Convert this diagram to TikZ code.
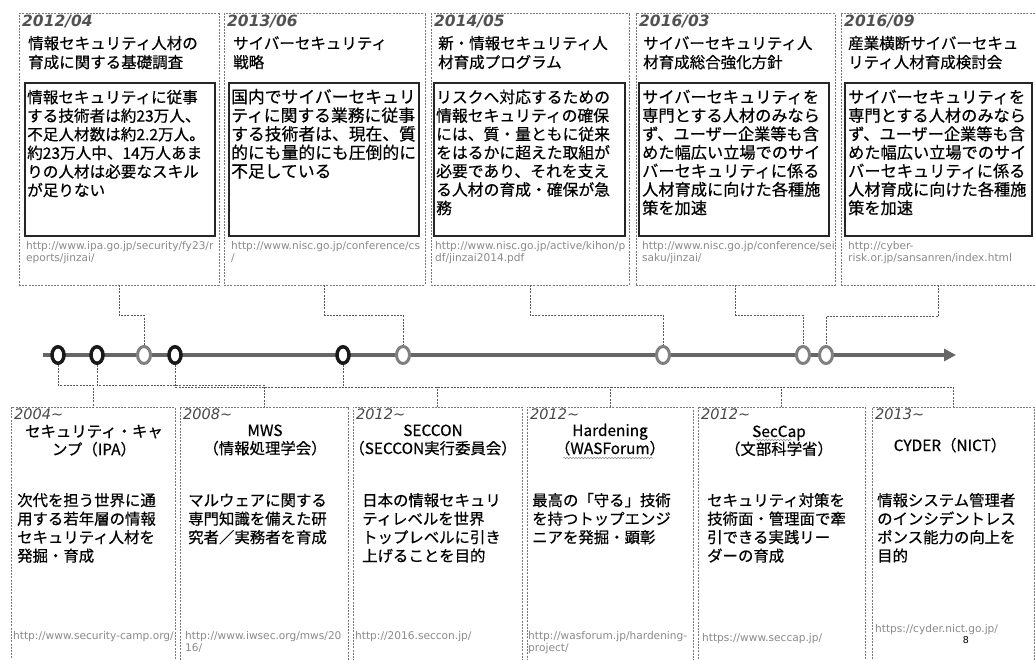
\documentclass[tikz,border=0pt]{standalone}
\usepackage{fontspec}
\setmainfont{Noto Sans CJK JP}[FakeBold=0.5]
\newfontfamily\latinfont{DejaVu Sans}
\usetikzlibrary{shapes.geometric,arrows.meta,decorations.pathmorphing}
\definecolor{boxgray}{HTML}{7A7A7A}
\definecolor{conngray}{HTML}{5A5A5A}
\definecolor{circgray}{HTML}{808080}
\definecolor{linegray}{HTML}{666666}
\definecolor{urlgray}{HTML}{8A8A8A}
\begin{document}
\begin{tikzpicture}[x=1pt,y=-1pt,
  obox/.style={draw=boxgray, dash pattern=on 2pt off 1.2pt, line width=1pt, inner sep=0pt, outer sep=0pt},
  ibox/.style={draw=black!85, line width=2pt, inner sep=0pt, outer sep=0pt},
  conn/.style={draw=conngray, dash pattern=on 2pt off 1.2pt, line width=1pt},
  gcirc/.style={ellipse, draw=circgray, fill=white, line width=3pt, minimum width=13pt, minimum height=17pt, inner sep=0pt},
  kcirc/.style={ellipse, draw=black!90, fill=white, line width=3.5pt, minimum width=12pt, minimum height=16.5pt, inner sep=0pt},
  datetop/.style={anchor=base west, inner sep=0pt, font=\latinfont\bfseries\itshape\fontsize{15.5}{15}\selectfont, text=black!68},
  datebot/.style={anchor=base west, inner sep=0pt, font=\latinfont\itshape\fontsize{14.5}{14}\selectfont, text=black!72},
  ttitle/.style={anchor=base west, inner sep=0pt, text width=200pt, align=left, font=\fontsize{15.5}{19}\selectfont},
  tbody/.style={anchor=base west, inner sep=0pt, text width=210pt, align=left},
  url/.style={anchor=base west, inner sep=0pt, text width=230pt, align=left, font=\latinfont\fontsize{10.6}{12}\selectfont, text=urlgray},
  btitle/.style={anchor=base, inner sep=0pt, text width=180pt, align=center, font=\fontsize{15.4}{18}\selectfont},
  bbody/.style={anchor=base west, inner sep=0pt, text width=180pt, align=left, font=\fontsize{15.4}{18.5}\selectfont},
  squig/.style={draw=black!45, line width=0.5pt, decorate, decoration={snake, amplitude=0.8pt, segment length=3pt}},
  tline/.style={draw=linegray, line width=4pt, -{Triangle[length=12pt,width=12pt]}}
]
\fill[white] (0,0) rectangle (1035,660);
\useasboundingbox (0,0) rectangle (1035,660);

% ---------- top boxes ----------
\node[obox, minimum width=200pt, minimum height=271pt] (t1) at (119,149.5) {};
\node[obox, minimum width=201pt, minimum height=271pt] (t2) at (324.5,149.5) {};
\node[obox, minimum width=198pt, minimum height=271pt] (t3) at (530,149.5) {};
\node[obox, minimum width=199pt, minimum height=271pt] (t4) at (735.5,149.5) {};
\node[obox, minimum width=195pt, minimum height=271pt] (t5) at (938.5,149.5) {};

\node[ibox, minimum width=190pt, minimum height=153pt] (i1) at (120,159.5) {};
\node[ibox, minimum width=190pt, minimum height=153pt] (i2) at (324,159.5) {};
\node[ibox, minimum width=191pt, minimum height=153pt] (i3) at (529.5,159.5) {};
\node[ibox, minimum width=190pt, minimum height=153pt] (i4) at (734,159.5) {};
\node[ibox, minimum width=187pt, minimum height=153pt] (i5) at (938.5,159.5) {};

\node[datetop] (d1) at (22,27) {2012/04};
\node[datetop] (d2) at (227,27) {2013/06};
\node[datetop] (d3) at (434,27) {2014/05};
\node[datetop] (d4) at (639,27) {2016/03};
\node[datetop] (d5) at (844,27) {2016/09};

\node[ttitle] (h1) at (28,49) {情報セキュリティ人材の\\育成に関する基礎調査};
\node[ttitle] (h2) at (233,49) {サイバーセキュリティ\\戦略};
\node[ttitle] (h3) at (438,49) {新・情報セキュリティ人\\材育成プログラム};
\node[ttitle] (h4) at (643,49) {サイバーセキュリティ人\\材育成総合強化方針};
\node[ttitle] (h5) at (848,49) {産業横断サイバーセキュ\\リティ人材育成検討会};

\node[tbody, font=\fontsize{15.6}{18.6}\selectfont] (x1) at (27,103) {情報セキュリティに従事\\する技術者は約23万人、\\不足人材数は約2.2万人。\\約23万人中、14万人あま\\りの人材は必要なスキル\\が足りない};
\node[tbody, font=\fontsize{16.8}{18.6}\selectfont] (x2) at (231,103) {国内でサイバーセキュリ\\ティに関する業務に従事\\する技術者は、現在、質\\的にも量的にも圧倒的に\\不足している};
\node[tbody, font=\fontsize{15.8}{18.5}\selectfont] (x3) at (436,103) {リスクへ対応するための\\情報セキュリティの確保\\には、質・量ともに従来\\をはるかに超えた取組が\\必要であり、それを支え\\る人材の育成・確保が急\\務};
\node[tbody, font=\fontsize{16.2}{18.5}\selectfont] (x4) at (642,103) {サイバーセキュリティを\\専門とする人材のみなら\\ず、ユーザー企業等も含\\めた幅広い立場でのサイ\\バーセキュリティに係る\\人材育成に向けた各種施\\策を加速};
\node[tbody, font=\fontsize{16.2}{18.5}\selectfont] (x5) at (848,103) {サイバーセキュリティを\\専門とする人材のみなら\\ず、ユーザー企業等も含\\めた幅広い立場でのサイ\\バーセキュリティに係る\\人材育成に向けた各種施\\策を加速};

\node[url] (u1) at (26,250) {http://www.ipa.go.jp/security/fy23/r\\eports/jinzai/};
\node[url] (u2) at (231,250) {http://www.nisc.go.jp/conference/cs\\/};
\node[url] (u3) at (435,250) {http://www.nisc.go.jp/active/kihon/p\\df/jinzai2014.pdf};
\node[url] (u4) at (642,250) {http://www.nisc.go.jp/conference/sei\\saku/jinzai/};
\node[url] (u5) at (848,250) {http://cyber-\\risk.or.jp/sansanren/index.html};

% ---------- bottom boxes ----------
\node[obox, minimum width=164pt, minimum height=261pt] (b1) at (93,537.5) {};
\node[obox, minimum width=168pt, minimum height=261pt] (b2) at (264,537.5) {};
\node[obox, minimum width=169pt, minimum height=261pt] (b3) at (437.5,537.5) {};
\node[obox, minimum width=166pt, minimum height=261pt] (b4) at (610,537.5) {};
\node[obox, minimum width=167pt, minimum height=261pt] (b5) at (781.5,537.5) {};
\node[obox, minimum width=162pt, minimum height=261pt] (b6) at (953,537.5) {};

\node[datebot] (e1) at (14,419) {2004\textasciitilde};
\node[datebot] (e2) at (183,419) {2008\textasciitilde};
\node[datebot] (e3) at (356,419) {2012\textasciitilde};
\node[datebot] (e4) at (530,419) {2012\textasciitilde};
\node[datebot] (e5) at (701,419) {2012\textasciitilde};
\node[datebot] (e6) at (875,419) {2013\textasciitilde};

\node[btitle] (g1) at (94,437) {セキュリティ・キャ\\ンプ（IPA）};
\node[btitle] (g2) at (265,436) {MWS\\（情報処理学会）};
\node[btitle] (g3) at (433,436) {SECCON\\（SECCON実行委員会）};
\node[btitle] (g4) at (610,436) {Hardening\\（WASForum）};
\node[btitle, font=\fontsize{15.4}{16}\selectfont] (g5) at (779,437) {SecCap\\（文部科学省）};
\node[btitle] (g6) at (950,451) {CYDER（NICT）};

\draw[squig] (563,458) -- (653,458);
\draw[squig] (756,440) -- (792,440);

\node[bbody] (y1) at (17,506) {次代を担う世界に通\\用する若年層の情報\\セキュリティ人材を\\発掘・育成};
\node[bbody] (y2) at (188,506) {マルウェアに関する\\専門知識を備えた研\\究者／実務者を育成};
\node[bbody] (y3) at (362,506) {日本の情報セキュリ\\ティレベルを世界\\トップレベルに引き\\上げることを目的};
\node[bbody] (y4) at (532,506) {最高の「守る」技術\\を持つトップエンジ\\ニアを発掘・顕彰};
\node[bbody] (y5) at (707,506) {セキュリティ対策を\\技術面・管理面で牽\\引できる実践リー\\ダーの育成};
\node[bbody] (y6) at (877,506) {情報システム管理者\\のインシデントレス\\ポンス能力の向上を\\目的};

\node[url] (v1) at (13,639) {http://www.security-camp.org/};
\node[url] (v2) at (185,639) {http://www.iwsec.org/mws/20\\16/};
\node[url] (v3) at (355,639) {http://2016.seccon.jp/};
\node[url] (v4) at (528,639) {http://wasforum.jp/hardening-\\project/};
\node[url] (v5) at (702,641) {https://www.seccap.jp/};
\node[url] (v6) at (875,632) {https://cyder.nict.go.jp/};
\node[anchor=base, inner sep=0pt, font=\latinfont\fontsize{9.5}{10}\selectfont] (pg) at (966,643) {8};

% ---------- timeline ----------
\coordinate (tlA) at (43,355);
\coordinate (tlB) at (956,355);
\draw[tline] (tlA) -- (tlB);

\node[kcirc] (c58) at (58,355) {};
\node[kcirc] (c97) at (97,355) {};
\node[gcirc] (c144) at (144,355) {};
\node[kcirc] (c175) at (175,355) {};
\node[kcirc] (c343) at (343,355) {};
\node[gcirc] (c403) at (403,355) {};
\node[gcirc] (c663) at (663,355) {};
\node[gcirc] (c803) at (803,355) {};
\node[gcirc] (c826) at (826,355) {};

% ---------- connectors top ----------
\draw[conn] (t1.south) -- ++(0,30) -| (c144.north);
\draw[conn] (t2.south) -- ++(0,30) -| (c403.north);
\draw[conn] (t3.south) -- ++(0,30) -| (c663.north);
\draw[conn] (t4.south) -- ++(0,30) -| (c803.north);
\draw[conn] (t5.south) -- ++(0,31) -| (c826.north);

% ---------- connectors bottom ----------
\coordinate (bus343) at (343,387);
\draw[conn] (c58.south) -- ++(0,20) -| (b1.north);
\draw[conn] (c97.south) -- ++(0,20) -| (b2.north);
\draw[conn] (c175.south) -- ++(0,22) -| (b6.north);
\draw[conn] (c343.south) -- (bus343);
\draw[conn] (b3.north) -- ++(0,-20);
\draw[conn] (b4.north) -- ++(0,-20);
\draw[conn] (b5.north) -- ++(0,-20);
\end{tikzpicture}
\end{document}
